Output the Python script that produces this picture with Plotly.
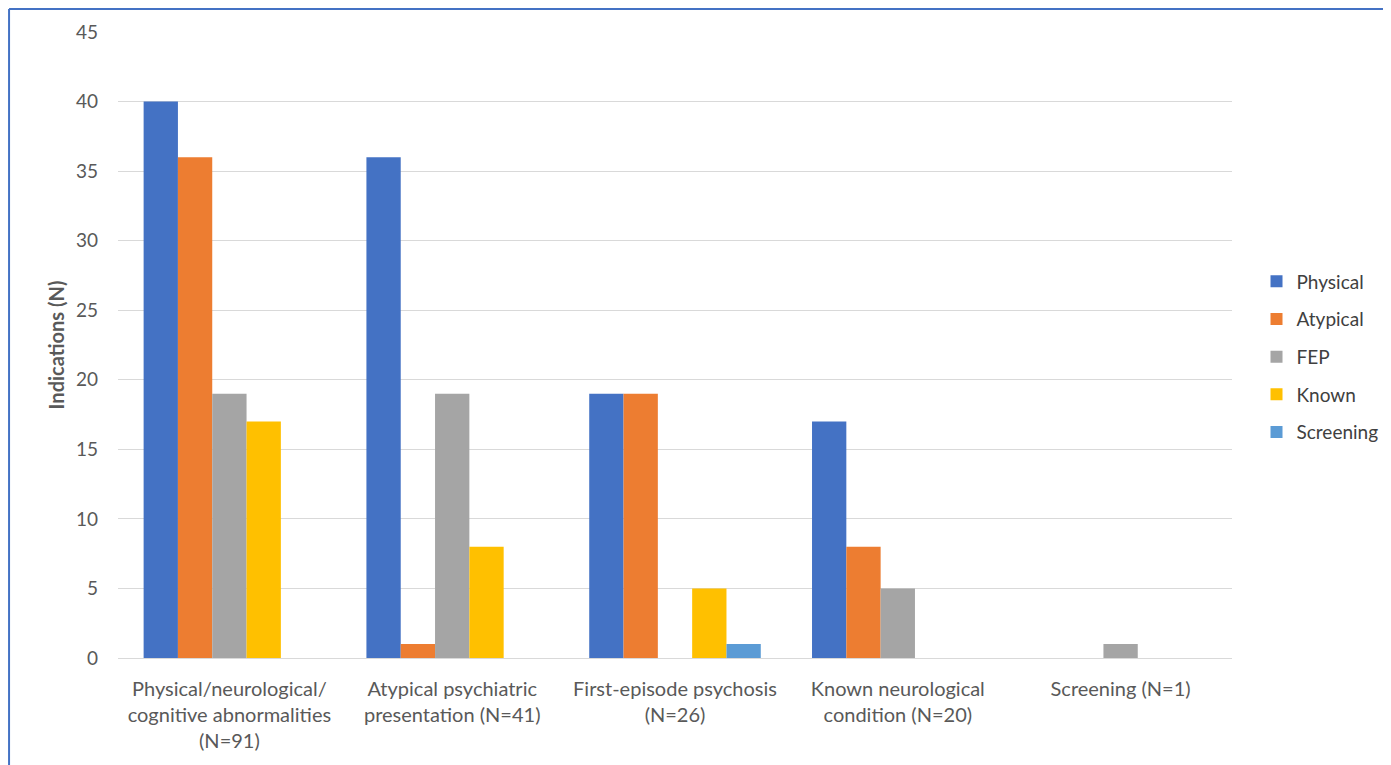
import plotly.graph_objects as go

categories = [
    "Physical/neurological/<br>cognitive abnormalities<br>(N=91)",
    "Atypical psychiatric<br>presentation (N=41)",
    "First-episode psychosis<br>(N=26)",
    "Known neurological<br>condition (N=20)",
    "Screening (N=1)",
]
series_names = ["Physical", "Atypical", "FEP", "Known", "Screening"]
physical = [40, 36, 19, 17, 0]
atypical = [36, 1, 19, 8, 0]
fep = [19, 19, 0, 5, 1]
known = [17, 8, 5, 0, 0]
screening = [0, 0, 1, 0, 0]
values = [physical, atypical, fep, known, screening]
colors = ["#4472C4", "#ED7D31", "#A5A5A5", "#FFC000", "#5B9BD5"]

FONT = "Lato, Open Sans, sans-serif"

fig = go.Figure()
for name, vals, col in zip(series_names, values, colors):
    fig.add_trace(go.Bar(
        x=categories, y=vals, name=name, legendgroup=name,
        marker=dict(color=col, line=dict(width=0)),
    ))

fig.update_layout(
    width=1391, height=765,
    margin=dict(l=110, r=167, t=24, b=115),
    paper_bgcolor="white", plot_bgcolor="white",
    barmode="group", bargap=0.23, bargroupgap=0,
    font=dict(family=FONT, size=20, color="#595959"),
    showlegend=True,
    legend=dict(
        x=1.022, xanchor="left", y=0.481, yanchor="middle",
        font=dict(size=19, color="#404040"),
        tracegroupgap=10, itemwidth=30,
        bgcolor="rgba(0,0,0,0)",
    ),
    xaxis=dict(
        showgrid=False, showline=True, linecolor="#D9D9D9", linewidth=1,
        ticks="", tickfont=dict(size=20, color="#595959"),
        ticklabelstandoff=13,
    ),
    yaxis=dict(
        range=[0, 45], dtick=5, showgrid=True, gridcolor="#D9D9D9", gridwidth=1,
        zeroline=True, zerolinecolor="#D9D9D9", zerolinewidth=1,
        ticks="", tickfont=dict(size=19, color="#595959"),
        ticklabelstandoff=19,
        title=dict(text="<b>Indications (N)</b>", font=dict(size=20, color="#595959"), standoff=5),
    ),
)

# blue frame edges of the cropped figure
fig.add_shape(type="line", xref="paper", yref="paper", x0=-0.0978, x1=1.16, y0=1.0367, y1=1.0367,
              line=dict(color="#4472C4", width=2))
fig.add_shape(type="line", xref="paper", yref="paper", x0=-0.0978, x1=-0.0978, y0=-0.2, y1=1.0367,
              line=dict(color="#4472C4", width=2))

fig.write_html("out.html")
